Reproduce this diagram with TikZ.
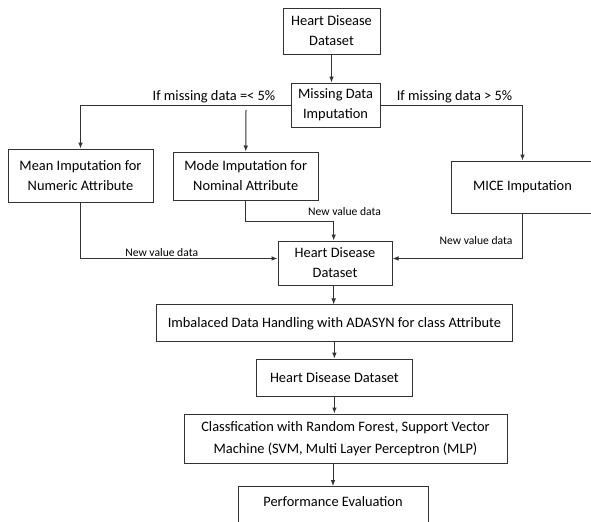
\documentclass[tikz,border=0pt]{standalone}
\usepackage{fontspec}
\setmainfont{Carlito}
\usetikzlibrary{arrows.meta}

\tikzset{
	box/.style = {draw = black!80, line width = 0.75pt, align = center, inner sep = 0pt, font = \fontsize{10.8}{15}\selectfont},
	flow/.style = {-{Latex[length = 4.5pt, width = 3.5pt]}, draw = black!80, line width = 0.75pt},
	link/.style = {draw = black!80, line width = 0.75pt},
	cond/.style = {font = \fontsize{10.8}{13}\selectfont},
	note/.style = {font = \fontsize{8.7}{10}\selectfont}
}

\begin{document}
\begin{tikzpicture}[x = 0.75pt, y = -0.75pt]
			%\draw[help lines, step = 50] (0,0) grid (591,521);
			\clip (0, 0) rectangle (591, 521);
			
			\node[box, minimum width = 72.75pt, minimum height = 34.5pt] (hdA) at (331.5, 31) {Heart Disease\\Dataset};
			\node[box, minimum width = 66.75pt, minimum height = 33pt] (mdi) at (335.5, 105) {Missing Data\\Imputation};
			\node[box, minimum width = 108.75pt, minimum height = 39.75pt] (mean) at (80.5, 175.5) {Mean Imputation for\\Numeric Attribute};
			\node[box, minimum width = 109.1pt, minimum height = 36pt] (mode) at (245.75, 176) {Mode Imputation for\\Nominal Attribute};
			\node[box, minimum width = 106.1pt, minimum height = 39pt] (mice) at (522.5, 187) {MICE Imputation};
			\node[box, minimum width = 85.5pt, minimum height = 33pt] (hdB) at (335, 263) {Heart Disease\\Dataset};
			\node[box, minimum width = 267.5pt, minimum height = 27.5pt] (imb) at (334.4, 323.3) {Imbalaced Data Handling with ADASYN for class Attribute};
			\node[box, minimum width = 117.5pt, minimum height = 28.3pt] (hdC) at (334.4, 378) {Heart Disease Dataset};
			\node[box, minimum width = 242.25pt, minimum height = 36.75pt, font = \fontsize{10.8}{16.5}\selectfont] (cls) at (345.5, 438.5) {Classfication with Random Forest, Support Vector\\Machine (SVM, Multi Layer Perceptron (MLP)};
			\node[box, anchor = north, minimum width = 142.5pt, inner ysep = 5.5pt, text height = 9.5pt, text depth = 22pt] (perf) at (333, 486) {Performance Evaluation};
			
			\node[cond] (lowmiss) at (214, 97) {If missing data =< 5\%};
			\node[cond] (highmiss) at (454.5, 97) {If missing data > 5\%};
			\node[note] (newA) at (161.7, 253) {New value data};
			\node[note] (newB) at (344.5, 212) {New value data};
			\node[note] (newC) at (476, 241) {New value data};
			
			\coordinate (split) at (246, 110);
			
			\draw[flow] (hdA.south) -- (hdA.south |- mdi.north);
			\draw[flow] (mdi.west) -| (mean.north);
			\draw[flow] (split) -- (mode.north);
			\draw[flow] (mdi.east) -| (mice.north);
			
			\draw[flow] (mean.south) |- ([yshift = 3.4pt]hdB.west);
			\draw[flow] (mode.south) -- ++(0, 21) -| ([xshift = -1pt]hdB.north);
			\draw[flow] (mice.south) |- ([yshift = 3.4pt]hdB.east);
			
			\draw[flow] ([xshift = -1pt]hdB.south) -- ([xshift = -1pt]hdB.south |- imb.north);
			\draw[flow] (imb.south -| hdC.north) -- (hdC.north);
			\draw[flow] (hdC.south) -- (hdC.south |- cls.north);
			\draw[flow] (perf.north |- cls.south) -- (perf.north);
		\end{tikzpicture}
\end{document}
